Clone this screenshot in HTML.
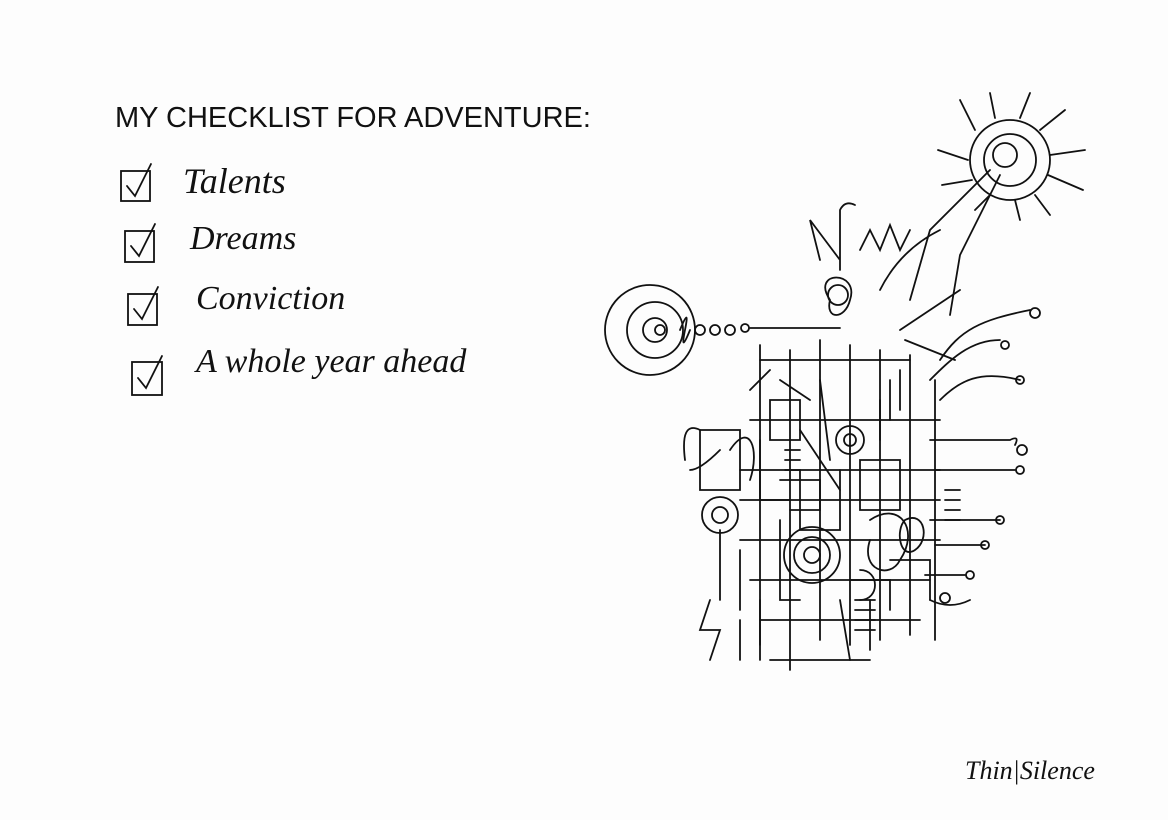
<!DOCTYPE html>
<html><head><meta charset="utf-8"><style>
html,body{margin:0;padding:0;background:#fdfdfd;}
body{width:1168px;height:820px;overflow:hidden;position:relative;font-family:"Liberation Sans",sans-serif;}
.t{position:absolute;color:#111;font-family:"Liberation Sans Narrow","Liberation Sans",sans-serif;font-weight:normal;white-space:nowrap;}
</style></head><body>
<div class="t" style="left:115px;top:102px;font-size:29px;">MY CHECKLIST FOR ADVENTURE:</div>
<div class="t" style="left:183px;top:160px;font-size:36px;font-family:'Liberation Serif',serif;font-style:italic;">Talents</div>
<div class="t" style="left:190px;top:220px;font-size:34px;font-family:'Liberation Serif',serif;font-style:italic;">Dreams</div>
<div class="t" style="left:196px;top:280px;font-size:34px;font-family:'Liberation Serif',serif;font-style:italic;">Conviction</div>
<div class="t" style="left:196px;top:343px;font-size:34px;font-family:'Liberation Serif',serif;font-style:italic;">A whole year ahead</div>
<div class="t" style="left:965px;top:756px;font-size:26px;font-family:'Liberation Serif',serif;font-style:italic;">Thin|Silence</div>
<svg width="1168" height="820" style="position:absolute;left:0;top:0" fill="none" stroke="#111" stroke-width="1.8" stroke-linecap="round">
<rect x="121" y="171" width="29" height="30"/><path d="M127 186l8 10 16-32"/>
<rect x="125" y="231" width="29" height="31"/><path d="M131 246l8 10 16-32"/>
<rect x="128" y="294" width="29" height="31"/><path d="M134 309l8 10 16-32"/>
<rect x="132" y="362" width="30" height="33"/><path d="M138 378l8 10 16-32"/>
<circle cx="1010" cy="160" r="40"/><circle cx="1010" cy="160" r="26"/><circle cx="1005" cy="155" r="12"/>
<path d="M975 130l-15-30M995 118l-5-25M1020 118l10-25M1040 130l25-20M1050 155l35-5M1048 175l35 15M1035 195l15 20M1015 200l5 20M990 195l-15 15M972 180l-30 5M968 160l-30-10"/>
<path d="M990 170l-60 60 -20 70M1000 175l-40 80 -10 60"/>
<circle cx="650" cy="330" r="45"/><circle cx="655" cy="330" r="28"/><circle cx="655" cy="330" r="12"/><circle cx="660" cy="330" r="5"/>
<path d="M680 330q10-25 5 0q-5 25 5 0"/><circle cx="700" cy="330" r="5"/><circle cx="715" cy="330" r="5"/><circle cx="730" cy="330" r="5"/><circle cx="745" cy="328" r="4"/>
<path d="M750 328h90"/>
<path d="M760 345v300M790 350v320M820 340v300M850 345v300M880 350v290M910 355v280M935 380v260"/>
<path d="M760 360h150M750 420h190M740 470h200M740 500h200M740 540h200M750 580h180M760 620h160M770 660h100"/>
<path d="M830 300c-20-30 30-30 20 0c-5 20-25 20-20 0zM840 270v-60q5-10 15-5M820 260l-10-40 30 40M860 250l10-20 10 20 10-25 10 25 10-20M880 290q20-40 60-60M900 330l60-40M905 340l50 20"/>
<circle cx="838" cy="295" r="10"/><circle cx="850" cy="440" r="14"/><circle cx="850" cy="440" r="6"/>
<circle cx="812" cy="555" r="28"/><circle cx="812" cy="555" r="18"/><circle cx="812" cy="555" r="8"/>
<circle cx="720" cy="515" r="18"/><circle cx="720" cy="515" r="8"/>
<path d="M700 430h40v60h-40zM730 450c20-30 30 0 20 30M770 400h30v40h-30zM860 460h40v50h-40zM800 470v60h40v-60M870 520c30-20 50 10 30 40c-10 20-40 10-30-20M890 560h40v40M720 530v70M740 550v60M780 520v80h20M760 600v60M840 600l10 60M870 600v50"/>
<path d="M930 440h80q10-5 5 5M935 470h80M930 520h70M935 545h50M925 575h40M930 600q20 10 40 0M940 400c20-20 40-30 80-20M930 380c20-20 40-40 70-40M940 360c20-30 40-40 90-50"/>
<circle cx="1022" cy="450" r="5"/><circle cx="1020" cy="470" r="4"/><circle cx="1000" cy="520" r="4"/><circle cx="985" cy="545" r="4"/><circle cx="970" cy="575" r="4"/><circle cx="945" cy="598" r="5"/><circle cx="1035" cy="313" r="5"/><circle cx="1020" cy="380" r="4"/><circle cx="1005" cy="345" r="4"/>
<path d="M700 430q-20-10-15 30M720 450q-20 20-30 20M710 600l-10 30h20l-10 30M740 620v40M760 440v60h30M780 480h40v30h-30M800 430l40 60M880 400v40M890 380v40M900 370v40M770 370l-20 20M780 380l30 20M820 380l10 80M850 580h40v30"/>
<path d="M855 600h20M855 610h20M855 620h20M855 630h20M945 490h15M945 500h15M945 510h15M945 520h15M785 450h15M785 460h15M785 470h15"/>
<path d="M905 520c20-10 25 20 10 30s-20-20-10-30zM860 570c20 0 20 30 0 30"/>
</svg>
</body></html>
